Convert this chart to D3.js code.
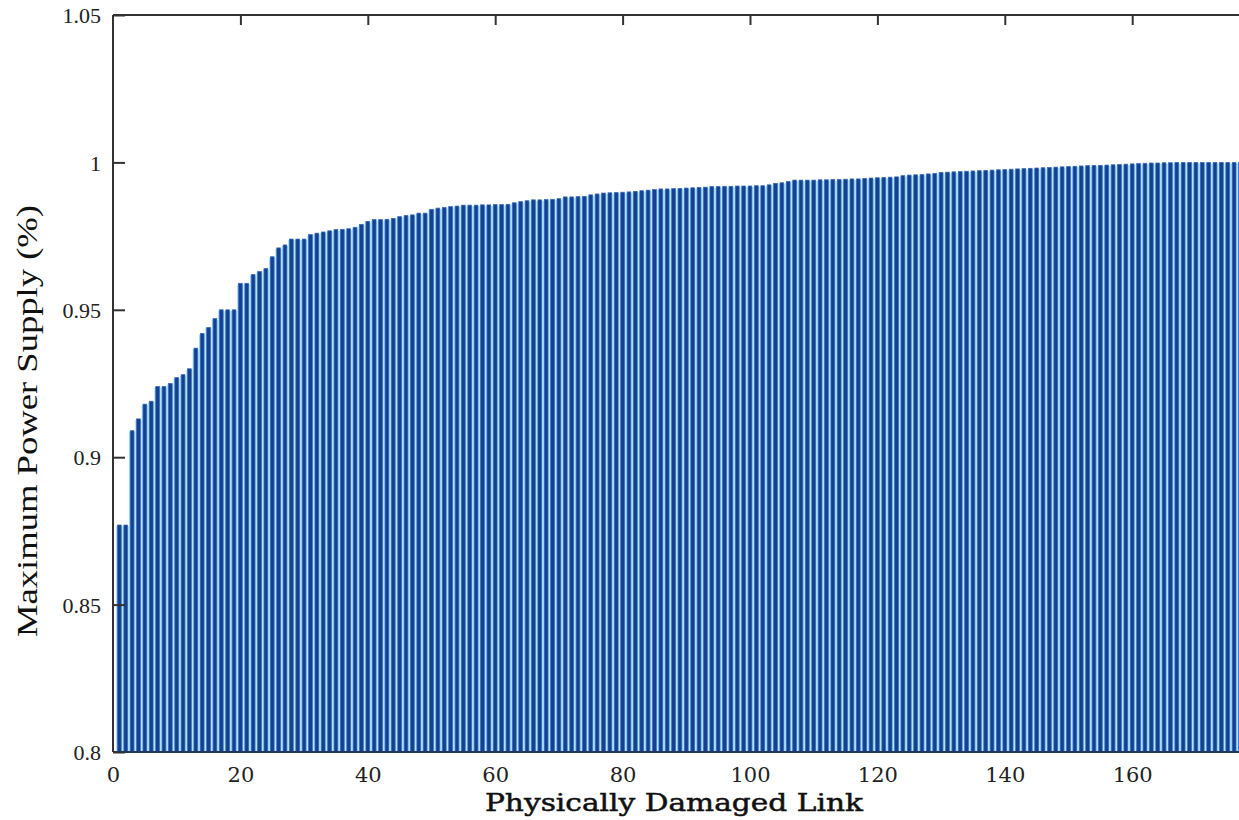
<!DOCTYPE html>
<html><head><meta charset="utf-8">
<script src="https://cdn.jsdelivr.net/npm/d3@7"></script>
<style>html,body{margin:0;padding:0;background:#fff;overflow:hidden}</style>
</head><body>
<svg id="chart" width="1239" height="820"></svg>
<script>
const values = [
0.877,0.877,0.909,0.913,0.918,0.919,0.924,0.924,0.925,0.927,
0.928,0.930,0.937,0.942,0.944,0.947,0.950,0.950,0.950,0.959,
0.959,0.962,0.963,0.964,0.968,0.971,0.972,0.974,0.974,0.974,
0.9755,0.976,0.9764,0.9768,0.9772,0.9773,0.9775,0.978,0.979,0.980,
0.9806,0.9806,0.9807,0.981,0.9816,0.982,0.9822,0.9828,0.9828,0.9841,
0.9845,0.9847,0.985,0.9852,0.9855,0.9855,0.9855,0.9856,0.9856,0.9857,
0.9857,0.9858,0.9863,0.9867,0.987,0.9873,0.9873,0.9874,0.9875,0.9877,
0.9883,0.9883,0.9884,0.9885,0.989,0.9893,0.9896,0.9897,0.9898,0.9899,
0.9900,0.9902,0.9904,0.9906,0.9908,0.991,0.991,0.9911,0.9912,0.9913,
0.9914,0.9915,0.9916,0.9918,0.9918,0.9919,0.9919,0.992,0.992,0.992,
0.9921,0.9921,0.9924,0.9929,0.9931,0.9935,0.994,0.994,0.994,0.994,
0.9941,0.9941,0.9942,0.9942,0.9943,0.9944,0.9944,0.9946,0.9947,0.9948,
0.9949,0.995,0.9951,0.9955,0.9957,0.9958,0.9959,0.9961,0.9963,0.9966,
0.9967,0.9968,0.9969,0.997,0.9971,0.9972,0.9973,0.9974,0.9975,0.9976,
0.9977,0.9978,0.9979,0.998,0.9981,0.9982,0.9983,0.9984,0.9985,0.9986,
0.9987,0.9988,0.9989,0.999,0.999,0.9991,0.9992,0.9993,0.9994,0.9995,
0.9996,0.9997,0.9998,0.9998,0.9999,0.9999,1.0,1.0,1.0,1.0,
1.0,1.0,1.0,1.0,1.0,1.0,1.0
];
const links = values.map((v,i)=>i+1);
const xTicks = [0,20,40,60,80,100,120,140,160];
const yTicks = [0.8,0.85,0.9,0.95,1,1.05];
const yTickLabels = ["0.8","0.85","0.9","0.95","1","1.05"];
const xLabel = "Physically Damaged Link";
const yLabel = "Maximum Power Supply (%)";

const svg = d3.select("#chart");
const mLeft = 113, mTop = 15, mBottom = 752;
const unit = 6.37;
const mRight = mLeft + 178*unit;
const x = d3.scaleLinear().domain([0,178]).range([mLeft,mRight]);
const y = d3.scaleLinear().domain([0.8,1.05]).range([mBottom,mTop]);

const bw = x(1)-x(0);
const g = svg.append("g");
g.selectAll("rect.bg").data(links).join("rect").attr("class","bg")
  .attr("x",d=>x(d)-bw/2).attr("width",bw)
  .attr("y",(d,i)=>y(values[i])+1).attr("height",(d,i)=>y(0.8)-y(values[i])-1)
  .attr("fill","#a3daf5");
g.selectAll("rect.bar").data(links).join("rect").attr("class","bar")
  .attr("x",d=>x(d)-bw*0.29).attr("width",bw*0.58)
  .attr("y",(d,i)=>y(values[i])).attr("height",(d,i)=>y(0.8)-y(values[i]))
  .attr("fill","#173f8e").attr("stroke","#2e6cc2").attr("stroke-width",0.7);

const axisColor = "#333";
svg.append("line").attr("x1",mLeft).attr("x2",mRight).attr("y1",mTop).attr("y2",mTop).attr("stroke",axisColor).attr("stroke-width",2);
svg.append("line").attr("x1",mLeft).attr("x2",mRight).attr("y1",mBottom).attr("y2",mBottom).attr("stroke","#23365c").attr("stroke-width",2);
svg.append("line").attr("x1",mLeft).attr("x2",mLeft).attr("y1",mTop).attr("y2",mBottom).attr("stroke",axisColor).attr("stroke-width",2);

const xb = svg.append("g").attr("transform",`translate(0,${mBottom})`)
  .call(d3.axisBottom(x).tickValues(xTicks).tickSize(0).tickPadding(0).tickFormat(d3.format("d")));
xb.select(".domain").remove();
xb.selectAll("text").attr("y",30).attr("dy",0)
  .style("font-family","'DejaVu Serif', serif").style("font-size","21px").style("fill","#222");
const xt = svg.append("g").attr("transform",`translate(0,${mTop})`)
  .call(d3.axisBottom(x).tickValues(xTicks.filter(d=>d>0)).tickSize(10).tickFormat(""));
xt.select(".domain").remove();
xt.selectAll("line").attr("stroke",axisColor).attr("stroke-width",2);

const ya = svg.append("g").attr("transform",`translate(${mLeft},0)`)
  .call(d3.axisRight(y).tickValues(yTicks).tickSize(12).tickFormat((d,i)=>yTickLabels[i]));
ya.select(".domain").remove();
ya.selectAll("line").attr("stroke",axisColor).attr("stroke-width",2);
ya.selectAll("text").attr("x",-12).attr("dy","0.35em").attr("text-anchor","end")
  .style("font-family","'Liberation Serif', serif").style("font-size","22px").style("fill","#222");

svg.append("text").attr("x",(mLeft+mRight)/2-6).attr("y",811).attr("text-anchor","middle")
  .style("font-family","'DejaVu Serif', serif").style("font-size","25px")
  .style("stroke","#111").style("stroke-width","0.5px")
  .attr("textLength",378).attr("lengthAdjust","spacingAndGlyphs")
  .style("fill","#111").text(xLabel);

svg.append("text").attr("transform","translate(37,421) rotate(-90)").attr("text-anchor","middle")
  .style("font-family","'Liberation Serif', serif").style("font-size","29px")
  .attr("textLength",432).attr("lengthAdjust","spacingAndGlyphs")
  .style("fill","#111").text(yLabel);
</script>
</body></html>
